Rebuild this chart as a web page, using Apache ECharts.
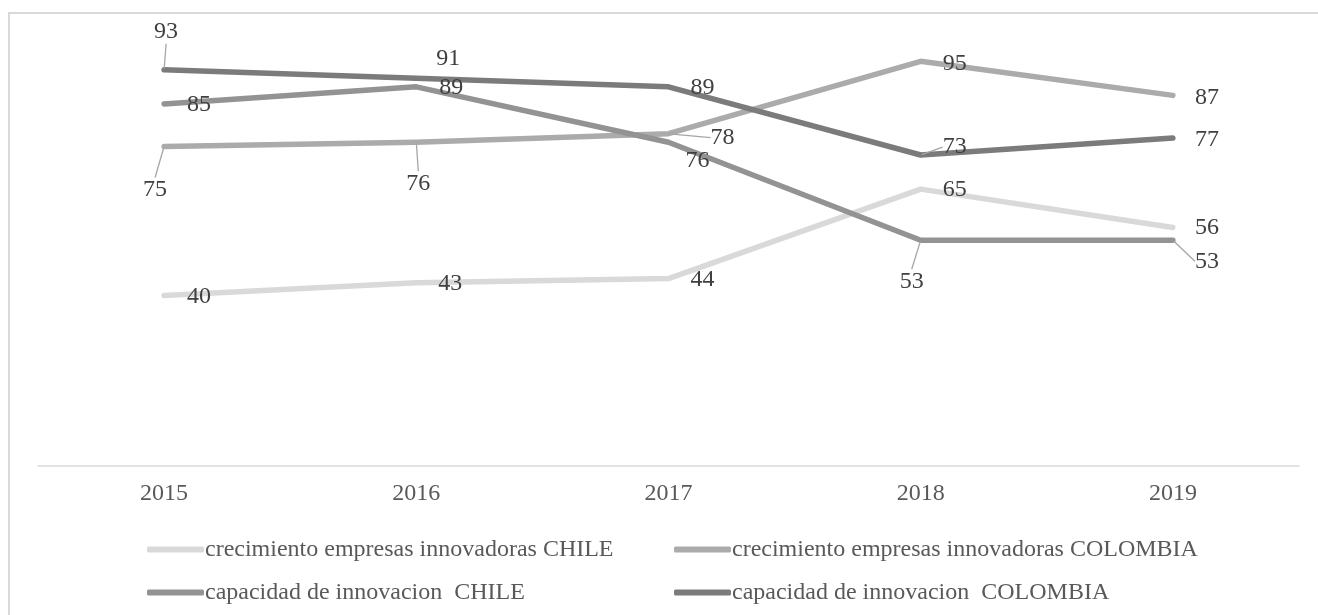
<!DOCTYPE html>
<html>
<head>
<meta charset="utf-8">
<script src="https://cdn.jsdelivr.net/npm/echarts@6/dist/echarts.min.js"></script>
<style>
  html, body { margin: 0; padding: 0; background: #fff; overflow: hidden; }
  #frame { position: absolute; left: 8px; top: 12px; width: 1400px; height: 700px; border: 2px solid #D9D9D9; box-sizing: border-box; }
  #chart { position: absolute; left: 0; top: 0; width: 1318px; height: 615px; }
</style>
</head>
<body>
<div id="frame"></div>
<div id="chart"></div>
<script>
  // datos
  var years = ['2015', '2016', '2017', '2018', '2019'];
  var seriesNames = [
    'crecimiento empresas innovadoras CHILE',
    'crecimiento empresas innovadoras COLOMBIA',
    'capacidad de innovacion  CHILE',
    'capacidad de innovacion  COLOMBIA'
  ];
  var crecChile = [40, 43, 44, 65, 56];
  var crecColombia = [75, 76, 78, 95, 87];
  var capChile = [85, 89, 76, 53, 53];
  var capColombia = [93, 91, 89, 73, 77];

  var colors = ['#D9D9D9', '#ABABAB', '#939393', '#7B7B7B'];
  var font = "'Liberation Serif', 'Times New Roman', serif";

  // desplazamiento de cada etiqueta respecto a su punto (dx, dy, con linea guia)
  var labelMoves = [
    [[35, 1], [34, 1], [34, 1], [34, 1], [34, 0]],
    [[-9, 43, 1], [2, 41, 1], [54, 4, 1], [34, 2], [34, 2]],
    [[35, 1], [35, 1], [29, 18], [-9, 41, 1], [34, 21, 1]],
    [[2, -38, 1], [32, -20], [34, 1], [34, -8, 1], [34, 2]]
  ];

  function makeSeries(idx, values) {
    return {
      name: seriesNames[idx],
      type: 'line',
      data: values.map(function (v, i) {
        return { value: v, labelLine: { show: !!labelMoves[idx][i][2] } };
      }),
      symbol: 'circle',
      symbolSize: 2,
      color: colors[idx],
      lineStyle: { width: 5.5, color: colors[idx], cap: 'round', join: 'round' },
      itemStyle: { color: colors[idx] },
      label: {
        show: true,
        position: 'inside',
        color: '#404040',
        fontFamily: font,
        fontSize: 24
      },
      labelLine: {
        show: false,
        lineStyle: { color: '#A6A6A6', width: 1.3 }
      },
      labelLayout: function (params) {
        var m = labelMoves[idx][params.dataIndex];
        return { dx: m[0], dy: m[1] };
      },
      emphasis: { disabled: true },
      animation: false
    };
  }

  var chart = echarts.init(document.getElementById('chart'));
  chart.setOption({
    backgroundColor: 'transparent',
    animation: false,
    grid: { left: 38, right: 19, top: 40, bottom: 149 },
    xAxis: {
      type: 'category',
      data: years,
      boundaryGap: true,
      axisLine: { lineStyle: { color: '#D9D9D9', width: 1.5 } },
      axisTick: { show: false },
      axisLabel: { color: '#595959', fontFamily: font, fontSize: 24, margin: 16 }
    },
    yAxis: {
      type: 'value',
      min: 0,
      max: 100,
      show: false,
      splitLine: { show: false }
    },
    legend: {
      left: 142,
      top: 528,
      width: 1070,
      itemWidth: 57,
      itemHeight: 6,
      itemGap: 10,
      icon: 'roundRect',
      data: seriesNames,
      textStyle: {
        color: '#595959',
        fontFamily: font,
        fontSize: 24,
        width: 459,
        lineHeight: 33,
        padding: [0, 0, 0, -4]
      }
    },
    series: [
      makeSeries(0, crecChile),
      makeSeries(1, crecColombia),
      makeSeries(2, capChile),
      makeSeries(3, capColombia)
    ]
  });
</script>
</body>
</html>
